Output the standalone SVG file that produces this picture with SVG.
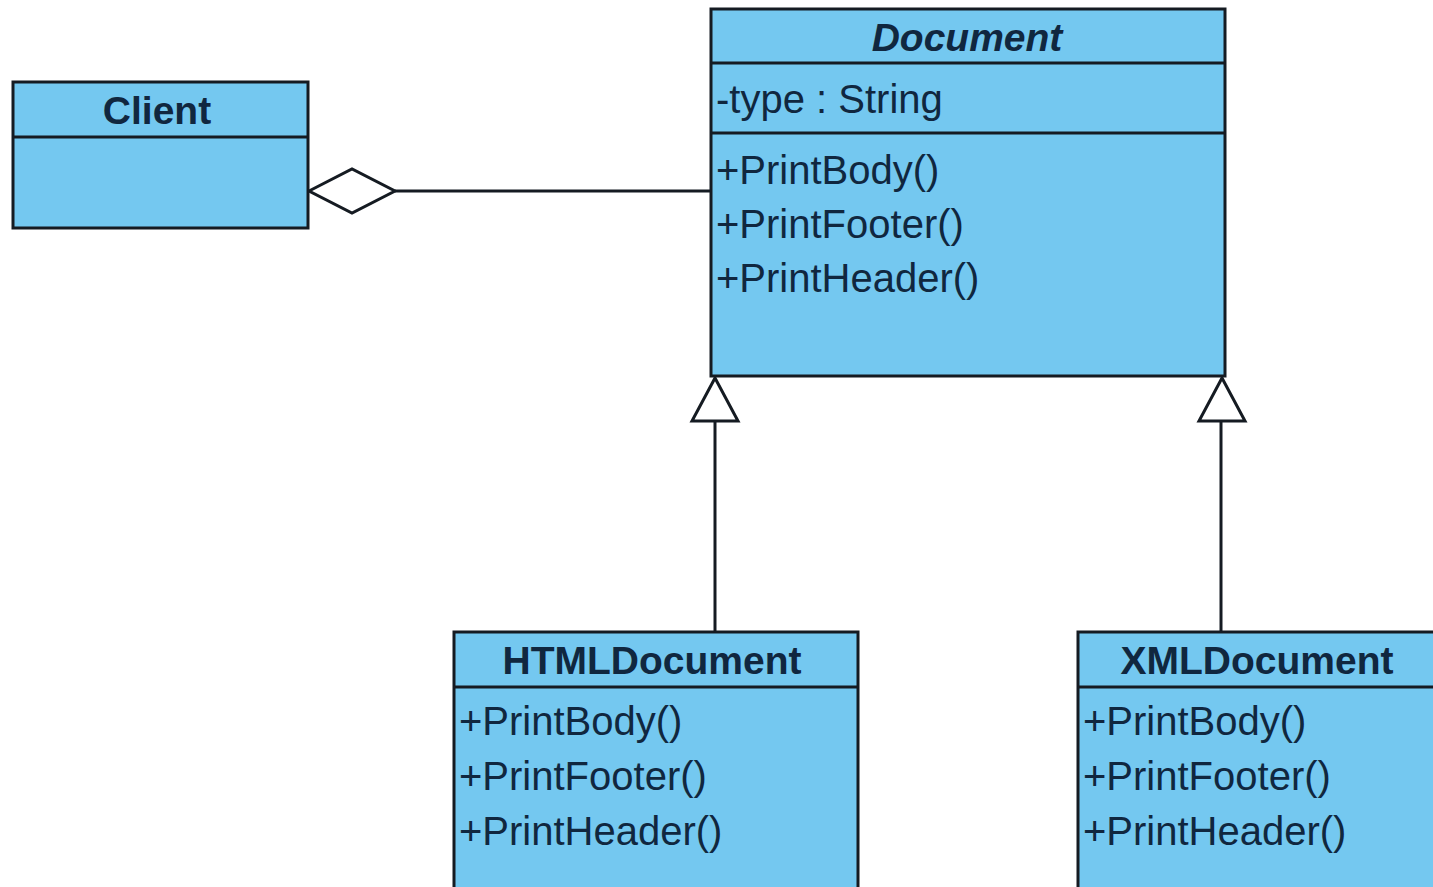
<svg xmlns="http://www.w3.org/2000/svg" width="1433" height="887" viewBox="0 0 1433 887">
<style>
.box{fill:#74C8F0;stroke:#151b22;stroke-width:3}
.div{stroke:#151b22;stroke-width:3}
.t{font-family:"Liberation Sans",Arial,sans-serif;font-size:40px;fill:#10273f}
.title{font-weight:bold;text-anchor:middle;font-size:39px}
.conn{stroke:#151b22;stroke-width:3;fill:none}
.head{fill:#ffffff;stroke:#151b22;stroke-width:3}
</style>
<rect width="1433" height="887" fill="#ffffff"/>
<g id="connectors">
<line class="conn" x1="395" y1="191" x2="711" y2="191"/>
<polygon class="head" points="309,191 352,169 395,191 352,213"/>
<line class="conn" x1="715" y1="421" x2="715" y2="632"/>
<polygon class="head" points="715,378 692,421 738,421"/>
<line class="conn" x1="1221" y1="421" x2="1221" y2="632"/>
<polygon class="head" points="1222,378 1199,421 1245,421"/>
</g>
<g id="client">
<rect class="box" x="13" y="82" width="295" height="146"/>
<line class="div" x1="13" y1="137" x2="308" y2="137"/>
<text class="t title" x="157" y="124">Client</text>
</g>
<g id="document">
<rect class="box" x="711" y="9" width="514" height="367"/>
<line class="div" x1="711" y1="63" x2="1225" y2="63"/>
<line class="div" x1="711" y1="133" x2="1225" y2="133"/>
<text class="t title" x="967" y="51" font-style="italic">Document</text>
<text class="t" x="716" y="113">-type : String</text>
<text class="t" x="716" y="184">+PrintBody()</text>
<text class="t" x="716" y="238">+PrintFooter()</text>
<text class="t" x="716" y="292">+PrintHeader()</text>
</g>
<g id="htmldocument">
<rect class="box" x="454" y="632" width="404" height="262"/>
<line class="div" x1="454" y1="687" x2="858" y2="687"/>
<text class="t title" x="652" y="674">HTMLDocument</text>
<text class="t" x="459" y="735">+PrintBody()</text>
<text class="t" x="459" y="790">+PrintFooter()</text>
<text class="t" x="459" y="845">+PrintHeader()</text>
</g>
<g id="xmldocument">
<rect class="box" x="1078" y="632" width="370" height="262"/>
<line class="div" x1="1078" y1="687" x2="1448" y2="687"/>
<text class="t title" x="1257" y="674">XMLDocument</text>
<text class="t" x="1083" y="735">+PrintBody()</text>
<text class="t" x="1083" y="790">+PrintFooter()</text>
<text class="t" x="1083" y="845">+PrintHeader()</text>
</g>
</svg>
